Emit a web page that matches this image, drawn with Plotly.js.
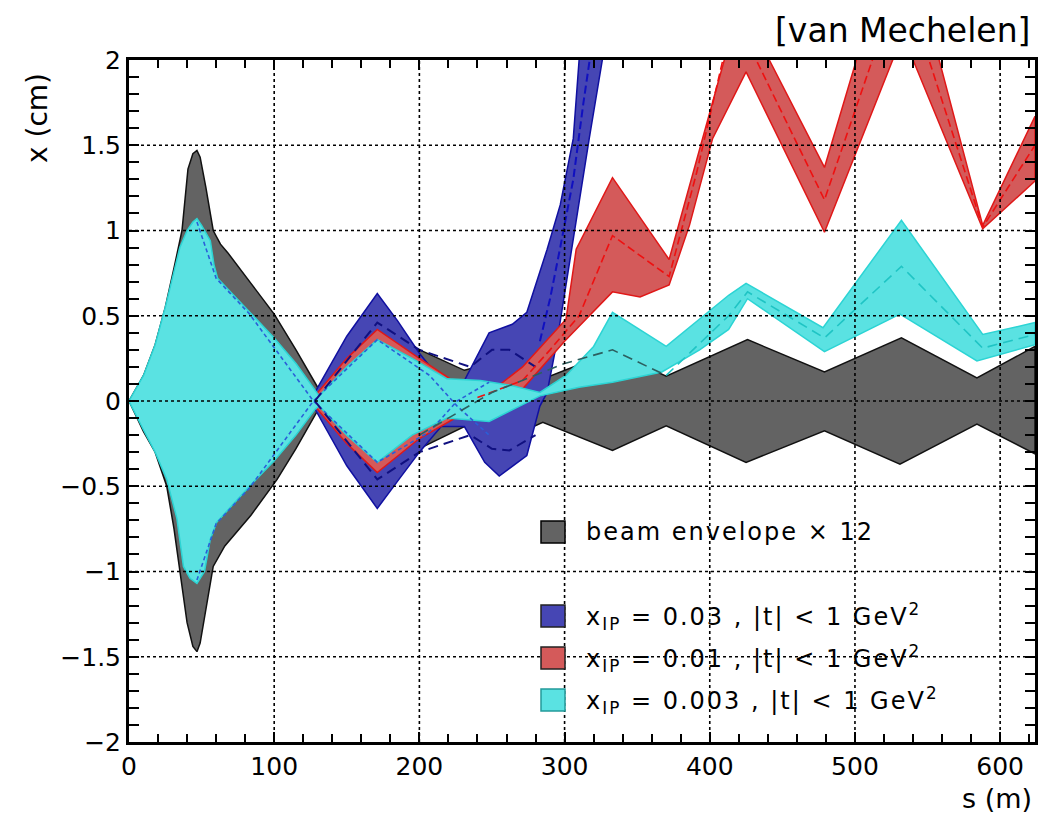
<!DOCTYPE html>
<html>
<head>
<meta charset="utf-8">
<script src="https://cdn.plot.ly/plotly-3.0.1.min.js"></script>
<style>
html,body{margin:0;padding:0;background:#fff;}
#chart{width:1043px;height:815px;}
</style>
</head>
<body>
<div id="chart"></div>
<script>
// ---------------- data (s in m, x in cm) ----------------
// beam envelope x 12
const grayUpS = [0,10,18,25,31,36.5,40.6,44,46.8,49,53,58,63,68,84,100,115,129,132,150,172,195,231,258,285,333,370,426,479,532,584,624];
const grayUpX = [0,0.15,0.33,0.55,0.78,1.0,1.36,1.45,1.47,1.43,1.25,1.0,0.92,0.87,0.69,0.51,0.3,0.1,0.05,0.27,0.45,0.32,0.18,0.24,0.13,0.29,0.145,0.36,0.17,0.37,0.135,0.32];
const grayLoS = [0,10,18,26,31,35,40,44,46.8,49,53,58,66,84,102,115,129,132,150,175,202,231,258,285,333,370,425,479,531,584,624];
const grayLoX = [0,-0.18,-0.3,-0.5,-0.75,-1.0,-1.3,-1.44,-1.47,-1.42,-1.22,-0.97,-0.85,-0.67,-0.46,-0.28,-0.07,-0.04,-0.28,-0.46,-0.27,-0.15,-0.23,-0.125,-0.29,-0.145,-0.36,-0.175,-0.37,-0.135,-0.31];

// x_IP = 0.03
const blueUpS = [125,130,150,171,185,200,215,231,248,264,274,283,288,297,306,310,318];
const blueUpX = [0,0.08,0.38,0.63,0.47,0.28,0.12,0.12,0.40,0.45,0.52,0.76,0.89,1.15,1.54,2.0,2.6];
const blueLoS = [125,130,150,171,185,200,215,231,245,255,274,283,288,295,299,306,317,326,334];
const blueLoX = [0,-0.08,-0.38,-0.63,-0.47,-0.3,-0.15,-0.15,-0.36,-0.44,-0.32,-0.03,0.05,0.36,0.56,0.95,1.54,2.0,2.6];

// x_IP = 0.01
const redUpS = [125,130,150,171,200,230,250,271,290,301,308,333,372,410,425,441,479,501,530,558,588,624];
const redUpX = [0,0.05,0.25,0.42,0.25,0.08,0.06,0.2,0.38,0.48,0.89,1.31,0.83,2.0,2.35,2.0,1.37,2.0,2.6,2.0,1.03,1.67];
const redLoS = [125,130,150,171,200,235,255,271,300,333,352,372,386,402,425,479,526,533,540,588,624];
const redLoX = [0,-0.05,-0.25,-0.42,-0.22,-0.05,0.0,0.07,0.35,0.64,0.61,0.68,1.03,1.54,1.93,0.99,2.0,2.1,2.0,1.01,1.29];

// x_IP = 0.003
const cyanUpS = [0,10,18,25,31,35,40,44,46.8,50,56,58.5,61,83,100,115,128,131,150,171,195,219,242,264,283,301,320,333,370,413,425,478,532,588,624];
const cyanUpX = [0,0.15,0.33,0.55,0.76,0.9,1.0,1.05,1.07,1.03,0.94,0.8,0.72,0.52,0.37,0.22,0.06,0.03,0.2,0.36,0.25,0.13,0.12,0.09,0.05,0.15,0.32,0.52,0.32,0.62,0.69,0.43,1.06,0.39,0.46];
const cyanLoS = [0,10,18,26,33,37.5,42,46.8,52,56,60.5,83,100,115,128,131,150,171,195,219,248,269,283,310,333,367,393,413,426,479,531,584,624];
const cyanLoX = [0,-0.17,-0.3,-0.46,-0.69,-0.97,-1.04,-1.07,-1.0,-0.81,-0.71,-0.5,-0.35,-0.2,-0.05,-0.03,-0.2,-0.36,-0.2,-0.1,-0.12,-0.03,0.03,0.08,0.11,0.17,0.3,0.42,0.6,0.29,0.51,0.235,0.33];

// dashed trajectories
const dashAS = [46.8,60,83,127,171,207,226,248];
const dashAX = [1.05,0.72,0.51,0.0,-0.36,-0.18,0.0,0.11];
const dashBS = [46.8,60,83,127,171,207,226,248];
const dashBX = [-1.05,-0.72,-0.51,0.0,0.36,0.15,-0.03,-0.2];
const blueLongAS = [128,171,200,235,250,262,280];
const blueLongAX = [0.0,0.46,0.3,0.2,0.3,0.3,0.2];
const blueLongBS = [128,171,200,235,250,262,280];
const blueLongBX = [0.0,-0.46,-0.3,-0.2,-0.28,-0.29,-0.2];
const blueMidS = [283,290,297,306,313,319];
const blueMidX = [0.35,0.6,0.9,1.3,1.75,2.1];
const redMidS = [240,271,290,310,333,372,391,409,420,432,479,512,530,551,588,624];
const redMidX = [0.02,0.12,0.3,0.5,0.97,0.73,1.34,2.0,2.3,2.0,1.18,2.0,2.3,2.0,1.02,1.5];
const tealMidS = [200,250,300,333,370];
const tealMidX = [-0.2,0.05,0.22,0.30,0.15];
const cyanMidS = [370,413,426,479,532,588,624];
const cyanMidX = [0.15,0.5,0.64,0.37,0.79,0.31,0.39];

// axes
const xTicks = [0,100,200,300,400,500,600];
const yTicks = [-2,-1.5,-1,-0.5,0,0.5,1,1.5,2];

// legend
const legendNames = ['beam envelope \u00d7 12',
  'x<sub>IP</sub> = 0.03 , |t| &lt; 1 GeV<sup>2</sup>',
  'x<sub>IP</sub> = 0.01 , |t| &lt; 1 GeV<sup>2</sup>',
  'x<sub>IP</sub> = 0.003 , |t| &lt; 1 GeV<sup>2</sup>'];

// ---------------- styling ----------------
const styles = [
  {fill:'#636363', line:'#111111'},
  {fill:'#4646b4', line:'#1010a0'},
  {fill:'#d45a5a', line:'#e01818'},
  {fill:'#5ae2e2', line:'#2cd4d4'}
];

function band(upS, upX, loS, loX, st, name){
  return {
    type:'scatter', mode:'lines', name:name, showlegend:false,
    x: upS.concat(loS.slice().reverse()),
    y: upX.concat(loX.slice().reverse()),
    fill:'toself', fillcolor: st.fill,
    line:{color: st.line, width:1.5}, hoverinfo:'skip'
  };
}
function dline(s, x, color, dash, w){
  return {type:'scatter', mode:'lines', x:s, y:x, showlegend:false,
    line:{color:color, dash:dash, width:w||1.6}, hoverinfo:'skip'};
}

const traces = [
  band(grayUpS, grayUpX, grayLoS, grayLoX, styles[0], 'beam'),
  band(blueUpS, blueUpX, blueLoS, blueLoX, styles[1], 'b'),
  band(redUpS, redUpX, redLoS, redLoX, styles[2], 'r'),
  band(cyanUpS, cyanUpX, cyanLoS, cyanLoX, styles[3], 'c'),
  dline(dashAS, dashAX, '#2a5fd8', '4px,3px'),
  dline(dashBS, dashBX, '#2a5fd8', '4px,3px'),
  dline(blueLongAS, blueLongAX, '#101080', '10px,6px', 2),
  dline(blueLongBS, blueLongBX, '#101080', '10px,6px', 2),
  dline(blueMidS, blueMidX, '#1010c0', '8px,4px', 2),
  dline(redMidS, redMidX, '#ee1010', '8px,4px', 1.6),
  dline(tealMidS, tealMidX, '#2c5f5f', '10px,6px', 1.6),
  dline(cyanMidS, cyanMidX, '#1fc4c4', '10px,6px', 1.6)
];

// plot area in px: x 129..1035, y 60..742
const L=129, R=1035, T=60, B=742;
const shapes = [];
xTicks.forEach(v=>{ if(v>0) shapes.push({type:'line', xref:'x', yref:'paper', x0:v, x1:v, y0:0, y1:1, layer:'above', line:{color:'#000', width:1.6, dash:'dot'}}); });
yTicks.forEach(v=>{ if(v>-2 && v<2) shapes.push({type:'line', xref:'paper', yref:'y', x0:0, x1:1, y0:v, y1:v, layer:'above', line:{color:'#000', width:1.6, dash:'dot'}}); });

// legend drawn as shapes + annotations
const rowsPx = [532, 616, 658, 700];
const annotations = [];
const px2x = p => (p-L)/(R-L);
const px2y = p => (B-p)/(B-T);
rowsPx.forEach((r,i)=>{
  shapes.push({type:'rect', xref:'paper', yref:'paper', x0:px2x(541), x1:px2x(565), y0:px2y(r+11), y1:px2y(r-11),
    fillcolor:styles[i].fill, line:{color: i===0?'#000':(i===3?'#239a9a':'#222'), width:1.5}, layer:'above'});
  annotations.push({xref:'paper', yref:'paper', x:px2x(584), y:px2y(r), xanchor:'left', yanchor:'middle',
    text:legendNames[i], showarrow:false, font:{family:'DejaVu Sans', size:24, color:'#000'}});
});
annotations.push({xref:'paper', yref:'paper', x:px2x(1032), y:px2y(30), xanchor:'right', yanchor:'middle',
  text:'[van Mechelen]', showarrow:false, font:{family:'DejaVu Sans', size:33, color:'#000'}});
annotations.push({xref:'paper', yref:'paper', x:px2x(37), y:px2y(118), xanchor:'center', yanchor:'middle',
  text:'x (cm)', textangle:-90, showarrow:false, font:{family:'DejaVu Sans', size:28, color:'#000'}});
annotations.push({xref:'paper', yref:'paper', x:px2x(1033), y:px2y(798), xanchor:'right', yanchor:'middle',
  text:'s (m)', showarrow:false, borderpad:0, font:{family:'DejaVu Sans', size:27, color:'#000'}});

const axisCommon = {
  showline:true, linecolor:'#000', linewidth:3, mirror:'allticks',
  ticks:'inside', ticklen:10, tickwidth:2, tickcolor:'#000',
  showgrid:false, zeroline:false,
  tickfont:{family:'DejaVu Sans', size:25, color:'#000'},
  layer:'above traces'
};
const layout = {
  width:1043, height:815,
  margin:{l:L, r:1043-R, t:T, b:815-B, pad:0},
  paper_bgcolor:'#fff', plot_bgcolor:'#fff',
  showlegend:false,
  xaxis: Object.assign({}, axisCommon, {range:[0,624], tickvals:xTicks, ticktext:xTicks.map(String),
    minor:{ticks:'inside', dtick:20, tick0:0, ticklen:8, tickwidth:2, tickcolor:'#000', showgrid:false}}),
  yaxis: Object.assign({}, axisCommon, {range:[-2,2], tickvals:yTicks,
    minor:{ticks:'inside', dtick:0.1, tick0:0, ticklen:10, tickwidth:2, tickcolor:'#000', showgrid:false}}),
  shapes: shapes,
  annotations: annotations
};

Plotly.newPlot('chart', traces, layout, {staticPlot:true, displayModeBar:false}).then(gd=>{
  const texts = gd.querySelectorAll('g.annotation text');
  for(let i=0;i<4 && i<texts.length;i++){
    const t = texts[i];
    const b0 = t.getBBox();
    t.style.letterSpacing = '2px';
    const b1 = t.getBBox();
    const dx = b0.x - b1.x;
    const prev = t.getAttribute('transform') || '';
    t.setAttribute('transform', 'translate(' + dx + ',0) ' + prev);
  }
});
</script>
</body>
</html>
